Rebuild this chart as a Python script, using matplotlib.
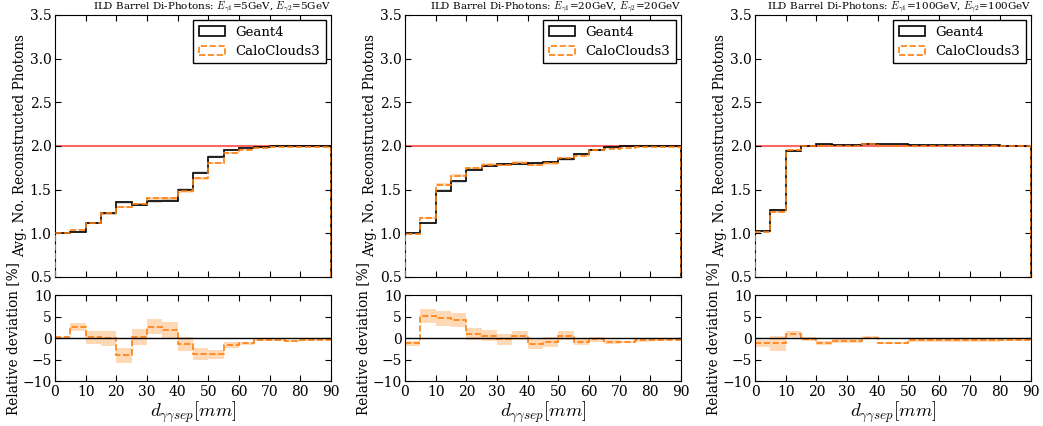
# avg number of reconstructed photons vs photon separation, Geant4 vs CaloClouds3
import numpy as np
import matplotlib.pyplot as plt

plt.rcParams['font.family'] = 'serif'
plt.rcParams['font.serif'] = ['DejaVu Serif']
plt.rcParams['mathtext.fontset'] = 'cm'

# bins of photon separation [mm]
edges = np.arange(0, 95, 5)
centers = edges[:-1] + 2.5

energies = [5, 20, 100]

# 5 GeV
g4_5 = [1.000, 1.015, 1.120, 1.230, 1.355, 1.330, 1.365, 1.374, 1.500,
        1.695, 1.878, 1.954, 1.980, 1.985, 2.000, 2.000, 2.000, 2.000]
cc_5 = [1.002, 1.041, 1.122, 1.230, 1.301, 1.333, 1.402, 1.400, 1.480,
        1.632, 1.808, 1.923, 1.956, 1.977, 1.992, 1.988, 1.990, 1.994]
err_5 = [0.2, 0.9, 1.4, 1.7, 1.7, 1.8, 1.8, 1.85, 1.65,
         1.4, 1.1, 0.7, 0.45, 0.25, 0.2, 0.3, 0.25, 0.2]

# 20 GeV
g4_20 = [1.008, 1.118, 1.489, 1.595, 1.730, 1.775, 1.790, 1.798, 1.805,
         1.817, 1.847, 1.905, 1.958, 1.985, 1.996, 2.000, 2.000, 2.000]
cc_20 = [0.996, 1.175, 1.557, 1.662, 1.747, 1.786, 1.785, 1.809, 1.782,
         1.801, 1.858, 1.890, 1.954, 1.967, 1.978, 1.990, 1.990, 1.994]
err_20 = [0.55, 1.55, 1.7, 1.7, 1.3, 1.3, 1.25, 1.1, 1.3,
          1.15, 1.05, 0.75, 0.6, 0.4, 0.3, 0.3, 0.25, 0.2]

# 100 GeV
g4_100 = [1.027, 1.263, 1.939, 2.004, 2.020, 2.012, 2.012, 2.023, 2.023,
          2.020, 2.015, 2.012, 2.012, 2.012, 2.008, 2.008, 2.004, 2.004]
cc_100 = [1.015, 1.248, 1.956, 2.001, 1.998, 2.000, 2.000, 2.026, 2.001,
          1.998, 2.005, 2.002, 2.002, 2.002, 1.998, 1.998, 1.996, 1.996]
err_100 = [0.75, 1.7, 0.7, 0.4, 0.45, 0.4, 0.4, 0.35, 0.3,
           0.3, 0.3, 0.3, 0.3, 0.3, 0.3, 0.3, 0.25, 0.25]

g4_all = [g4_5, g4_20, g4_100]
cc_all = [cc_5, cc_20, cc_100]
err_all = [err_5, err_20, err_100]

orange = '#ff7f0e'

fig = plt.figure(figsize=(10.43, 4.26), dpi=100)
lefts = [0.0527, 0.3883, 0.7239]

for i in range(3):
    g4 = np.array(g4_all[i])
    cc = np.array(cc_all[i])
    err = np.array(err_all[i])
    dev = (cc - g4) / g4 * 100

    ax1 = fig.add_axes([lefts[i], 0.3498, 0.2646, 0.615])
    ax2 = fig.add_axes([lefts[i], 0.1045, 0.2646, 0.203], sharex=ax1)

    # top panel
    ax1.axhline(2.0, color='red', alpha=0.6, lw=1.5, zorder=1)
    ax1.stairs(g4 * (1 + err / 100 / np.sqrt(2)), edges,
               baseline=g4 * (1 - err / 100 / np.sqrt(2)),
               fill=True, color='grey', alpha=0.3, lw=0, zorder=2)
    ax1.stairs(cc * (1 + err / 100 / np.sqrt(2)), edges,
               baseline=cc * (1 - err / 100 / np.sqrt(2)),
               fill=True, color=orange, alpha=0.3, lw=0, zorder=2)
    ax1.hist(centers, bins=edges, weights=g4, histtype='step',
             color='black', lw=1.2, label='Geant4', zorder=3)
    ax1.hist(centers, bins=edges, weights=cc, histtype='step',
             color=orange, lw=1.2, ls='--', label='CaloClouds3', zorder=4)
    ax1.set_ylim(0.5, 3.5)
    ax1.set_yticks(np.arange(0.5, 3.6, 0.5))
    ax1.set_ylabel('Avg. No. Reconstructed Photons', fontsize=9.8)
    ax1.yaxis.set_label_coords(-0.1, 0.5)
    ax1.set_title(r'ILD Barrel Di-Photons: $E_{\gamma1}$=%dGeV, $E_{\gamma2}$=%dGeV'
                  % (energies[i], energies[i]), loc='right', fontsize=7.5, pad=3)
    leg = ax1.legend(loc='upper right', fontsize=9.5, fancybox=False,
                     framealpha=1, edgecolor='black', borderaxespad=0.4)
    leg.get_frame().set_linewidth(1.0)
    plt.setp(ax1.get_xticklabels(), visible=False)

    # bottom panel
    ax2.stairs(dev + err, edges, baseline=dev - err, fill=True,
               color=orange, alpha=0.3, lw=0)
    ax2.stairs(dev, edges, baseline=None, color=orange, lw=1.2, ls='--')
    ax2.axhline(0, color='black', lw=1.0, zorder=1)
    ax2.set_ylim(-10, 10)
    ax2.set_yticks([-10, -5, 0, 5, 10])
    ax2.set_xlim(0, 90)
    ax2.set_xticks(range(0, 91, 10))
    ax2.set_ylabel('Relative deviation [%]', fontsize=9.8)
    ax2.yaxis.set_label_coords(-0.127, 0.5)
    ax2.set_xlabel(r'$d_{\gamma\gamma sep} [mm]$', fontsize=13.5, labelpad=0)

    for ax in (ax1, ax2):
        ax.tick_params(direction='in', top=True, right=True, length=4,
                       labelsize=10, pad=2.5)

fig.savefig('out.png', dpi=100)
